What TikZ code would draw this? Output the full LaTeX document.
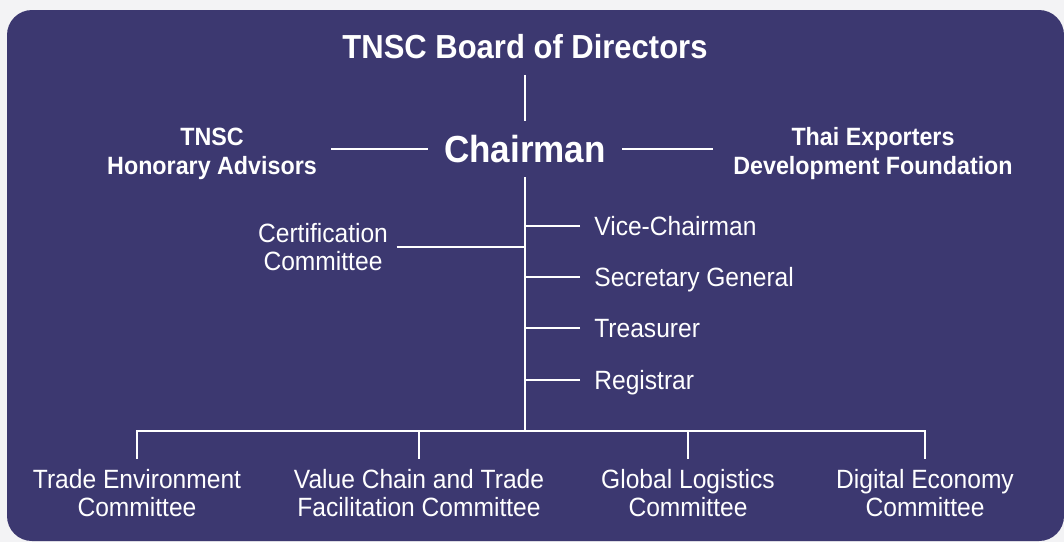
\documentclass[tikz,border=0pt]{standalone}
\usepackage{fontspec}
\setmainfont{Liberation Sans}[FakeStretch=0.93]
\usepackage{xcolor}
\usetikzlibrary{positioning}
\definecolor{panel}{RGB}{60,56,112}
\definecolor{paper}{RGB}{243,243,245}

\tikzset{
	head/.style={text=white, font=\bfseries\fontsize{17.8}{20.6}\selectfont, align=center},
	post/.style={text=white, font=\fontsize{18.8}{19.8}\selectfont, align=center},
	branch/.style={text=white, font=\fontsize{18.8}{19.8}\selectfont, anchor=west, inner xsep=10pt, text depth=0pt},
	unit/.style={post, anchor=north, inner ysep=7pt},
	link/.style={draw=white, line width=2.1pt}
}

\begin{document}
\begin{tikzpicture}[x=0.025cm, y=-0.025cm, node distance=1cm]
	\fill[paper] (0,0) rectangle (1064,542);
	\useasboundingbox (0,0) rectangle (1064,542);
	\fill[panel, rounded corners=0.625cm] (7,10) rectangle (1064,541);

	\node[text=white, font=\bfseries\fontsize{23.7}{26}\selectfont, inner ysep=11pt] (board) at (525,47) {TNSC Board of Directors};
	\node[text=white, font=\bfseries\fontsize{26.8}{30}\selectfont, inner xsep=11.5pt, inner ysep=10pt] (chair) at (525,149) {Chairman};
	\node[head, inner xsep=10pt] (hon) at (212,154) {TNSC\\Honorary Advisors};
	\node[head, inner xsep=14pt] (ted) at (873,154) {Thai Exporters\\Development Foundation};

	\node[post, inner xsep=6pt] (cert) at (323,247) {Certification\\Committee};
	\node[branch] (vice) at (580,226) {Vice-Chairman};
	\node[branch] (sec) at (580,277) {Secretary General};
	\node[branch] (tre) at (580,328) {Treasurer};
	\node[branch] (reg) at (580,380) {Registrar};

	\coordinate (bus) at (525,431);
	\node[unit] (te) at (137,459) {Trade Environment\\Committee};
	\node[unit] (vt) at (419,459) {Value Chain and Trade\\Facilitation Committee};
	\node[unit] (gl) at (688,459) {Global Logistics\\Committee};
	\node[unit] (de) at (925,459) {Digital Economy\\Committee};



	\draw[link] (board) -- (chair);
	\draw[link] (hon.east |- chair) -- (chair);
	\draw[link] (chair) -- (ted.west |- chair);
	\draw[link] (chair) -- (bus);
	\draw[link] (cert.east) -- (cert.east -| bus);
	\foreach \b in {vice, sec, tre, reg}
		\draw[link] (\b.west) -- (\b.west -| bus);
	\draw[link] (te.north) -- (te.north |- bus) -- (de.north |- bus) -- (de.north);
	\draw[link] (vt.north) -- (vt.north |- bus);
	\draw[link] (gl.north) -- (gl.north |- bus);


\end{tikzpicture}
\end{document}
